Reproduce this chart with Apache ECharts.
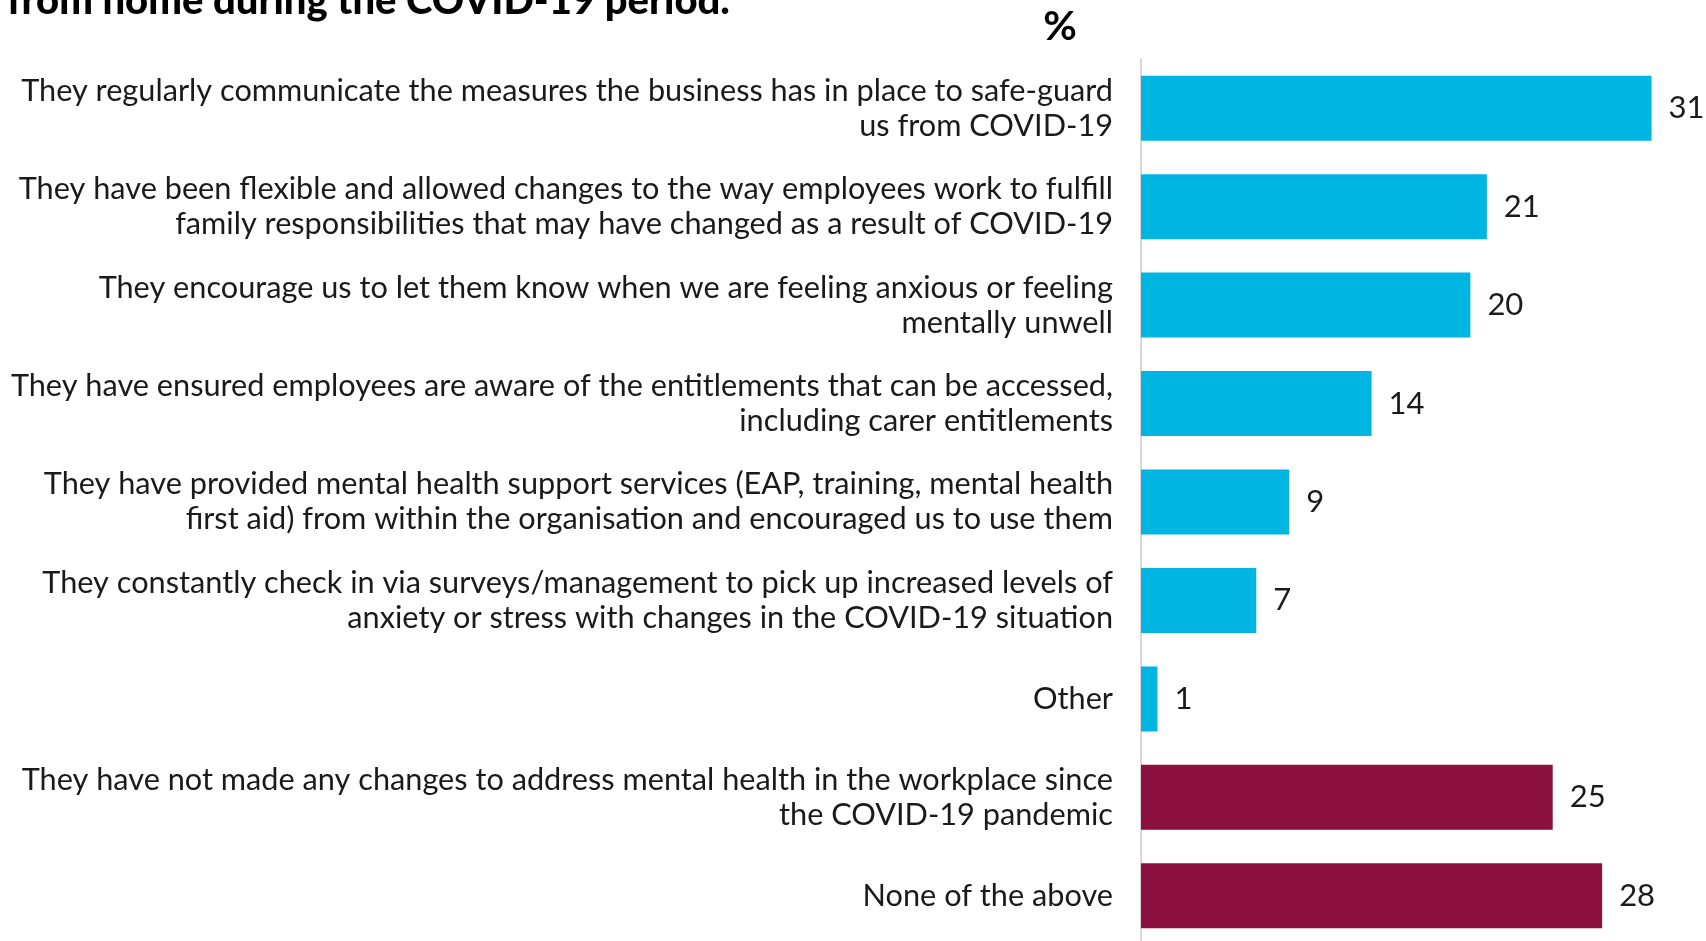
<!DOCTYPE html>
<html>
<head>
<meta charset="utf-8">
<style>
  html, body { margin: 0; padding: 0; background: #ffffff; }
  #chart { width: 1706px; height: 941px; }
</style>
<script src="https://cdn.jsdelivr.net/npm/echarts@6/dist/echarts.min.js"></script>
</head>
<body>
<div id="chart"></div>
<script>
// Survey responses, top to bottom
const categories = [
  'They regularly communicate the measures the business has in place to safe-guard\nus from COVID-19',
  'They have been flexible and allowed changes to the way employees work to fulfill\nfamily responsibilities that may have changed as a result of COVID-19',
  'They encourage us to let them know when we are feeling anxious or feeling\nmentally unwell',
  'They have ensured employees are aware of the entitlements that can be accessed,\nincluding carer entitlements',
  'They have provided mental health support services (EAP, training, mental health\nfirst aid) from within the organisation and encouraged us to use them',
  'They constantly check in via surveys/management to pick up increased levels of\nanxiety or stress with changes in the COVID-19 situation',
  'Other',
  'They have not made any changes to address mental health in the workplace since\nthe COVID-19 pandemic',
  'None of the above'
];
const percentages = [31, 21, 20, 14, 9, 7, 1, 25, 28];
// true = action taken, false = no action
const tookAction = [true, true, true, true, true, true, true, false, false];

const titleText = 'from home during the COVID-19 period.';
const unitText = '%';

const CYAN = '#00b5e2';
const MAROON = '#8b103e';
const FONT = 'Lato';

const chart = echarts.init(document.getElementById('chart'), null, { renderer: 'canvas' });

chart.setOption({
  backgroundColor: '#ffffff',
  animation: false,
  textStyle: { fontFamily: FONT },
  graphic: [
    {
      type: 'text',
      left: 7,
      top: -19,
      style: {
        text: titleText,
        font: '900 40px ' + FONT,
        fill: '#000000'
      }
    },
    {
      type: 'text',
      x: 1060,
      y: 27,
      style: {
        text: unitText,
        font: 'bold 41px ' + FONT,
        fill: '#000000',
        align: 'center',
        verticalAlign: 'middle'
      }
    }
  ],
  grid: {
    left: 1141,
    top: 59,
    width: 527,
    height: 886,
    outerBoundsMode: 'none',
    containLabel: false
  },
  xAxis: {
    type: 'value',
    min: 0,
    max: 32,
    show: false
  },
  yAxis: {
    type: 'category',
    inverse: true,
    data: categories,
    axisTick: { show: false },
    axisLine: { show: true, lineStyle: { color: '#d9d9d9', width: 2 } },
    axisLabel: {
      margin: 28,
      color: '#1a1a1a',
      fontSize: 30.7,
      lineHeight: 35,
      align: 'right',
      fontFamily: FONT
    }
  },
  series: [
    {
      type: 'bar',
      barWidth: 65,
      data: percentages.map((v, i) => ({
        value: v,
        itemStyle: { color: tookAction[i] ? CYAN : MAROON }
      })),
      label: {
        show: true,
        position: 'right',
        distance: 17,
        color: '#1a1a1a',
        fontSize: 31,
        fontFamily: FONT
      }
    }
  ]
});
</script>
</body>
</html>
